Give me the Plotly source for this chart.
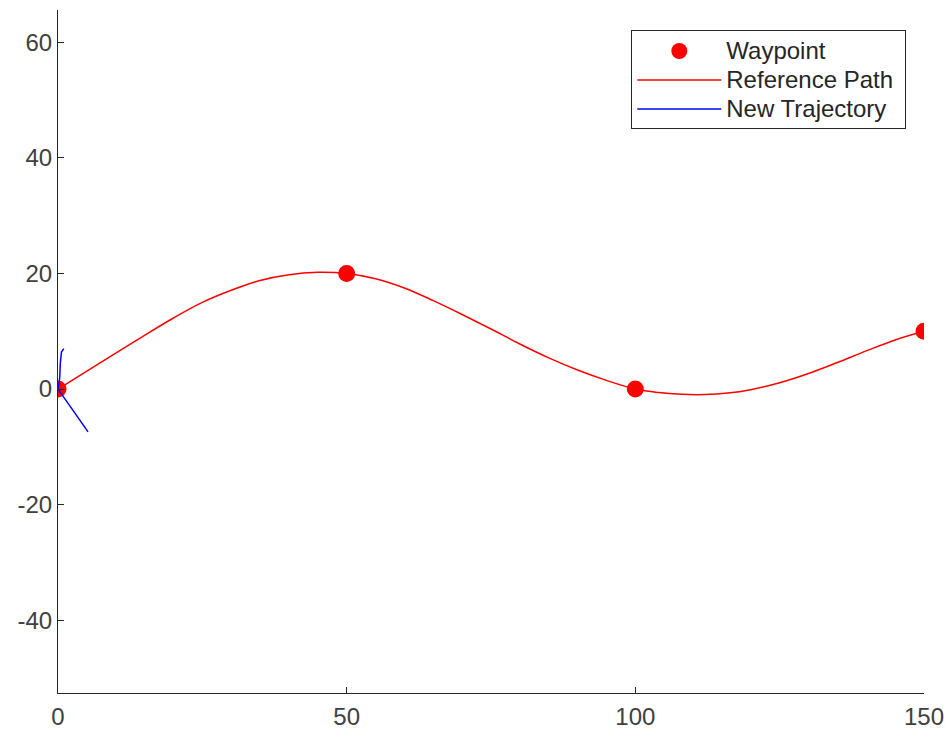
import plotly.graph_objects as go

# Waypoints
wp_x = [0, 50, 100, 150]
wp_y = [0, 20, 0, 10]

# Reference path
ref_x = [0, 5, 10, 15, 20, 25, 30, 35, 40, 45, 50,
         55, 60, 65, 70, 75, 80, 85, 90, 95, 100,
         104, 108, 112, 116, 120, 125, 130, 135, 140, 145, 150]
ref_y = [0, 3.1, 6.2, 9.3, 12.3, 15.0, 17.1, 18.8, 19.8, 20.2, 20.0,
         19.1, 17.5, 15.3, 12.9, 10.4, 7.8, 5.4, 3.3, 1.5, 0,
         -0.6, -0.9, -0.95, -0.7, -0.1, 1.1, 2.7, 4.6, 6.6, 8.5, 10]

# New trajectory
traj_x = [1.0, 0.6, 0.4, 0.3, 0.1, 0, 2.6, 5.2]
traj_y = [7.0, 6.4, 4.5, 2.0, 0.5, 0, -3.7, -7.4]

x_ticks = [0, 50, 100, 150]
x_labels = ["0", "50", "100", "150"]
y_ticks = [-40, -20, 0, 20, 40, 60]
y_labels = ["-40", "-20", "0", "20", "40", "60"]

names = ["Waypoint", "Reference Path", "New Trajectory"]


def big(s):
    return "<span style='font-size:24px'>" + s + "&nbsp;</span>"


fig = go.Figure()
fig.add_trace(go.Scatter(x=wp_x, y=wp_y, mode="markers", name=big(names[0]),
                         marker=dict(color="#ff0000", size=17, line=dict(width=0))))
fig.add_trace(go.Scatter(x=ref_x, y=ref_y, mode="lines", name=big(names[1]),
                         line=dict(color="#ff0000", width=1.5, shape="spline", smoothing=1.0)))
fig.add_trace(go.Scatter(x=traj_x, y=traj_y, mode="lines", name=big(names[2]),
                         line=dict(color="#0000ff", width=1.5)))

axis_common = dict(showgrid=False, zeroline=False, showline=True, linecolor="#262626",
                   linewidth=1, ticks="inside", ticklen=6, tickcolor="#262626",
                   tickfont=dict(family="Liberation Sans, Arial", size=24, color="#404040"))

fig.update_layout(
    width=949, height=734,
    margin=dict(l=58, r=25, t=10, b=41, autoexpand=False),
    paper_bgcolor="white", plot_bgcolor="white",
    xaxis=dict(range=[0, 150], tickvals=x_ticks, ticktext=x_labels, ticklabelstandoff=2,
               **axis_common),
    yaxis=dict(range=[-52.6, 65.6], tickvals=y_ticks, ticktext=y_labels, ticklabelstandoff=0,
               **axis_common),
    legend=dict(x=0.662, y=0.97, xanchor="left", yanchor="top",
                bgcolor="white", bordercolor="#262626", borderwidth=1,
                font=dict(family="Liberation Sans, Arial", size=20, color="#262626"),
                itemwidth=84, tracegroupgap=0),
    showlegend=True,
)
fig.write_html("out.html", post_script="document.body.style.margin='0px';",
               config={"displayModeBar": False})
